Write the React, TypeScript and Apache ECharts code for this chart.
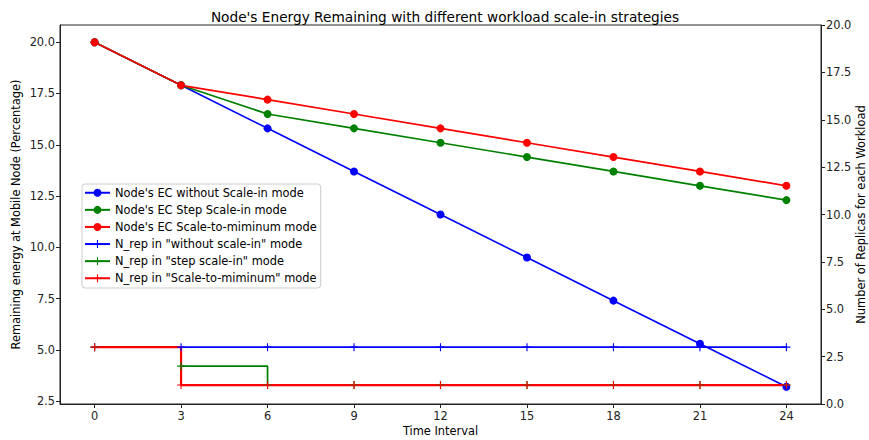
import React, { useEffect, useRef } from "react";
import * as echarts from "echarts";

const timeIntervals = [0, 3, 6, 9, 12, 15, 18, 21, 24];
const energyWithout = [20, 17.9, 15.8, 13.7, 11.6, 9.5, 7.4, 5.3, 3.2];
const energyStep = [20, 17.9, 16.5, 15.8, 15.1, 14.4, 13.7, 13.0, 12.3];
const energyMin = [20, 17.9, 17.2, 16.5, 15.8, 15.1, 14.4, 13.7, 13.0];
const repWithout = [3, 3, 3, 3, 3, 3, 3, 3, 3];
const repStep = [3, 2, 1, 1, 1, 1, 1, 1, 1];
const repMin = [3, 1, 1, 1, 1, 1, 1, 1, 1];
const xTicks = [0, 3, 6, 9, 12, 15, 18, 21, 24];
const leftTicks = [2.5, 5, 7.5, 10, 12.5, 15, 17.5, 20];

const names = [
  "Node's EC without Scale-in mode",
  "Node's EC Step Scale-in mode",
  "Node's EC Scale-to-miminum mode",
  'N_rep in "without scale-in" mode',
  'N_rep in "step scale-in" mode',
  'N_rep in "Scale-to-miminum" mode',
];

const PLUS = "path://M0,4.3 H10 V5.7 H0 Z M4.3,0 H5.7 V10 H4.3 Z";
const FONT = "DejaVu Sans";
const FS = 11.4;

const pairs = (ys: number[]) => timeIntervals.map((x, i) => [x, ys[i]]);

export default function App() {
  const ref = useRef<HTMLDivElement>(null);
  useEffect(() => {
    if (!ref.current) return;
    const chart = echarts.init(ref.current, null, { renderer: "svg" });
    const energySeries = (name: string, ys: number[], color: string) => ({
      name,
      type: "line",
      data: pairs(ys),
      xAxisIndex: 0,
      yAxisIndex: 0,
      symbol: "circle",
      symbolSize: 8,
      color,
      lineStyle: { color, width: 1.7 },
      itemStyle: { color },
    });
    const repSeries = (name: string, ys: number[], color: string, w: number) => ({
      name,
      type: "line",
      step: "end",
      data: pairs(ys),
      xAxisIndex: 0,
      yAxisIndex: 1,
      symbol: PLUS,
      symbolSize: 8,
      color,
      lineStyle: { color, width: w },
      itemStyle: { color },
    });
    chart.setOption({
      animation: false,
      backgroundColor: "#fff",
      textStyle: { fontFamily: FONT },
      title: {
        text: "Node's Energy Remaining with different workload scale-in strategies",
        left: 440,
        textAlign: "center",
        top: 5,
        textStyle: { fontFamily: FONT, fontSize: 13.7, fontWeight: "normal", color: "#000" },
      },
      grid: {
        left: 60,
        right: 48,
        top: 25,
        bottom: 36,
        containLabel: false,
        outerBoundsMode: "none",
        show: true,
        borderColor: "#222",
        borderWidth: 1,
        backgroundColor: "transparent",
      },
      legend: {
        orient: "vertical",
        left: 82,
        top: 184,
        data: names,
        itemWidth: 25,
        itemHeight: 10,
        itemGap: 5.6,
        padding: [3, 4, 4, 2],
        backgroundColor: "#fff",
        borderColor: "#cccccc",
        borderWidth: 1,
        borderRadius: 3,
        textStyle: { fontFamily: FONT, fontSize: FS, color: "#000", lineHeight: 11.5 },
      },
      xAxis: {
        type: "value",
        min: -1.2,
        max: 25.2,
        name: "Time Interval",
        nameLocation: "middle",
        nameGap: 21,
        nameMoveOverlap: false,
        nameTextStyle: { fontFamily: FONT, fontSize: FS, color: "#000" },
        axisLine: { show: true, onZero: false, lineStyle: { color: "#222", width: 1 } },
        axisTick: { show: true, length: 4, customValues: xTicks, lineStyle: { color: "#222" } },
        axisLabel: {
          customValues: xTicks,
          margin: 6,
          fontFamily: FONT,
          fontSize: FS,
          color: "#222",
        },
        splitLine: { show: false },
      },
      yAxis: [
        {
          type: "value",
          position: "left",
          min: 2.36,
          max: 20.84,
          name: "Remaining energy at Mobile Node (Percentage)",
          nameLocation: "middle",
          nameRotate: 90,
          nameGap: 39,
          nameMoveOverlap: false,
          nameTextStyle: { fontFamily: FONT, fontSize: FS, color: "#000" },
          axisLine: { show: true, onZero: false, lineStyle: { color: "#222", width: 1 } },
          axisTick: { show: true, length: 4, customValues: leftTicks, lineStyle: { color: "#222" } },
          axisLabel: {
            customValues: leftTicks,
            margin: 5,
            fontFamily: FONT,
            fontSize: FS,
            color: "#222",
            formatter: (v: number) => v.toFixed(1),
          },
          splitLine: { show: false },
        },
        {
          type: "value",
          position: "right",
          min: 0,
          max: 20,
          interval: 2.5,
          name: "Number of Replicas for each Workload",
          nameLocation: "middle",
          nameRotate: 90,
          nameGap: 34,
          nameMoveOverlap: false,
          nameTextStyle: { fontFamily: FONT, fontSize: FS, color: "#000" },
          axisLine: { show: true, onZero: false, lineStyle: { color: "#222", width: 1 } },
          axisTick: { show: true, length: 4, lineStyle: { color: "#222" } },
          axisLabel: {
            margin: 5,
            fontFamily: FONT,
            fontSize: FS,
            color: "#222",
            formatter: (v: number) => v.toFixed(1),
          },
          splitLine: { show: false },
        },
      ],
      series: [
        energySeries(names[0], energyWithout, "#0000ff"),
        energySeries(names[1], energyStep, "#008000"),
        energySeries(names[2], energyMin, "#ff0000"),
        repSeries(names[3], repWithout, "#0000ff", 1.7),
        repSeries(names[4], repStep, "#008000", 1.7),
        repSeries(names[5], repMin, "#ff0000", 2.2),
      ],
    });
    return () => chart.dispose();
  }, []);
  return (
    <div
      ref={ref}
      style={{ position: "absolute", left: 0, top: 0, width: 869, height: 440 }}
    />
  );
}
